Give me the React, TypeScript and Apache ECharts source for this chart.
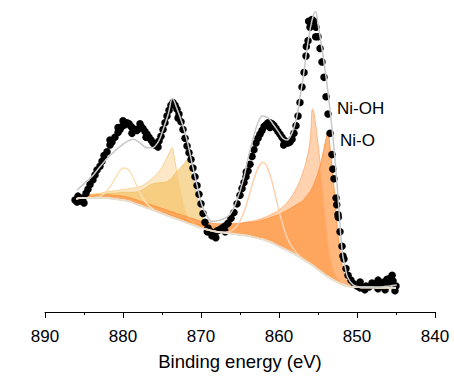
import React, { useEffect, useRef } from "react";
import * as echarts from "echarts";

// Shared energy grid (eV) for background and fitted components
const energyGrid = [
  886, 885.5, 885, 884.5, 884, 883.5, 883, 882.5, 882, 881.5,
  881, 880.5, 880, 879.5, 879, 878.5, 878, 877.5, 877, 876.5,
  876, 875.5, 875, 874.5, 874, 873.7, 873.5,
  873, 872.5, 872, 871.8, 871.5, 871, 870.5, 870,
  869.5, 869, 868.5, 868, 867.5, 867, 866.5, 866, 865.5, 865,
  864.5, 864, 863.5, 863, 862.5, 862, 861.5, 861, 860.5, 860,
  859.5, 859, 858.5, 858, 857.5, 857, 856.5, 856, 855.7, 855.5,
  855, 854.5, 854, 853.7, 853.5, 853, 852.5, 852, 851.5,
  851, 850.5, 850, 849.5, 849, 848.5, 848, 847.5, 847, 846.5, 846, 845.5, 845,
];

// Shirley-type background (a.u.)
const background = [
  11.7, 11.8, 11.8, 11.8, 11.8, 11.8, 11.8, 11.8, 11.8, 11.75,
  11.7, 11.65, 11.6, 11.5, 11.4, 11.25, 11.1, 10.95, 10.8, 10.65,
  10.5, 10.35, 10.2, 10.05, 9.9, 9.81, 9.75,
  9.6, 9.45, 9.3, 9.24, 9.15, 9.0, 8.85, 8.7,
  8.6, 8.5, 8.4, 8.3, 8.25, 8.2, 8.15, 8.1, 8.05, 8.0,
  7.95, 7.9, 7.8, 7.7, 7.6, 7.5, 7.35, 7.2, 7.0, 6.8,
  6.6, 6.4, 6.2, 6.0, 5.75, 5.5, 5.25, 5.0, 4.82, 4.7,
  4.4, 4.1, 3.8, 3.65, 3.55, 3.3, 3.1, 2.9, 2.75,
  2.65, 2.6, 2.6, 2.55, 2.55, 2.55, 2.55, 2.5, 2.5, 2.5, 2.5, 2.5, 2.5,
];

// Component heights above background
const niO_2p32 = [
  0.3, 0.3, 0.3, 0.3, 0.3, 0.32, 0.33, 0.34, 0.35, 0.36,
  0.37, 0.38, 0.4, 0.41, 0.42, 0.44, 0.45, 0.46, 0.48, 0.49,
  0.5, 0.52, 0.53, 0.54, 0.55, 0.56, 0.57,
  0.58, 0.6, 0.62, 0.63, 0.64, 0.66, 0.68, 0.7,
  0.73, 0.76, 0.8, 0.84, 0.88, 0.93, 0.98, 1.04, 1.1, 1.18,
  1.27, 1.37, 1.5, 1.65, 1.83, 2.05, 2.3, 2.6, 2.95, 3.3,
  3.7, 4.1, 4.55, 5.0, 5.5, 6.0, 6.7, 7.5, 8.1, 8.6,
  10.0, 11.8, 14.0, 15.0, 13.8, 10.0, 5.5, 2.4, 0.8,
  0.25, 0.08, 0.03, 0, 0, 0, 0, 0, 0, 0, 0, 0, 0,
];

const niOH_2p32 = [
  0.12, 0.12, 0.13, 0.13, 0.14, 0.14, 0.15, 0.15, 0.16, 0.16,
  0.17, 0.17, 0.18, 0.19, 0.2, 0.2, 0.21, 0.22, 0.23, 0.24,
  0.25, 0.26, 0.27, 0.28, 0.29, 0.3, 0.3,
  0.31, 0.33, 0.35, 0.36, 0.37, 0.39, 0.41, 0.44,
  0.5, 0.55, 0.6, 0.66, 0.72, 0.8, 0.88, 0.97, 1.07, 1.18,
  1.3, 1.44, 1.6, 1.78, 2.0, 2.25, 2.55, 2.9, 3.3, 3.75,
  4.3, 4.9, 5.6, 6.5, 7.5, 8.8, 10.4, 12.8, 16.2, 15.8,
  13.0, 9.5, 5.5, 3.5, 2.5, 1.0, 0.4, 0.15, 0.05,
  0.02, 0.01, 0, 0, 0, 0, 0, 0, 0, 0, 0, 0, 0,
];

const sat_2p32 = [
  0, 0, 0, 0, 0, 0, 0, 0, 0, 0,
  0, 0, 0, 0, 0, 0, 0, 0, 0, 0,
  0, 0, 0, 0, 0, 0, 0,
  0, 0, 0, 0, 0, 0, 0, 0,
  0, 0, 0, 0, 0.02, 0.06, 0.16, 0.37, 0.76, 1.4,
  2.4, 3.7, 5.2, 6.6, 7.6, 8.0, 7.6, 6.6, 5.2, 3.7,
  2.4, 1.4, 0.76, 0.37, 0.16, 0.05, 0, 0, 0, 0,
  0, 0, 0, 0, 0, 0, 0, 0, 0,
  0, 0, 0, 0, 0, 0, 0, 0, 0, 0, 0, 0, 0,
];

const niOH_2p12 = [
  0.25, 0.28, 0.3, 0.35, 0.4, 0.45, 0.5, 0.58, 0.66, 0.75,
  0.85, 0.96, 1.08, 1.22, 1.4, 1.6, 1.85, 2.15, 2.55, 3.0,
  3.5, 4.1, 4.8, 5.7, 6.7, 7.2, 6.6,
  4.4, 2.5, 1.1, 0.8, 0.45, 0.2, 0.1, 0.05,
  0.03, 0.02, 0.01, 0, 0, 0, 0, 0, 0, 0,
  0, 0, 0, 0, 0, 0, 0, 0, 0, 0,
  0, 0, 0, 0, 0, 0, 0, 0, 0, 0,
  0, 0, 0, 0, 0, 0, 0, 0, 0,
  0, 0, 0, 0, 0, 0, 0, 0, 0, 0, 0, 0, 0,
];

const niO_2p12 = [
  0.2, 0.22, 0.24, 0.27, 0.3, 0.33, 0.37, 0.42, 0.48, 0.55,
  0.62, 0.7, 0.8, 0.9, 1.0, 1.15, 1.4, 1.7, 2.1, 2.5,
  2.8, 3.0, 3.2, 3.4, 3.8, 4.1, 4.4,
  5.0, 5.6, 6.2, 6.5, 5.9, 4.6, 3.0, 1.6,
  0.6, 0.2, 0.08, 0.03, 0, 0, 0, 0, 0, 0,
  0, 0, 0, 0, 0, 0, 0, 0, 0, 0,
  0, 0, 0, 0, 0, 0, 0, 0, 0, 0,
  0, 0, 0, 0, 0, 0, 0, 0, 0,
  0, 0, 0, 0, 0, 0, 0, 0, 0, 0, 0, 0, 0,
];

const sat_2p12 = [
  0, 0, 0, 0.01, 0.02, 0.07, 0.18, 0.41, 0.81, 1.41,
  2.15, 2.86, 3.32, 3.36, 2.98, 2.3, 1.55, 0.92, 0.47, 0.21,
  0.08, 0.03, 0.01, 0, 0, 0, 0,
  0, 0, 0, 0, 0, 0, 0, 0,
  0, 0, 0, 0, 0, 0, 0, 0, 0, 0,
  0, 0, 0, 0, 0, 0, 0, 0, 0, 0,
  0, 0, 0, 0, 0, 0, 0, 0, 0, 0,
  0, 0, 0, 0, 0, 0, 0, 0, 0,
  0, 0, 0, 0, 0, 0, 0, 0, 0, 0, 0, 0, 0,
];

// Fitted envelope
const envelopeE = [
  885.9, 885, 884, 882.9, 881.9, 881, 880.1, 879.4, 878.7, 877.8,
  876.9, 876.3, 875.5, 874.9, 874.2, 873.65, 873.1, 872.4, 871.8, 871.2,
  870.5, 869.9, 869.2, 868.6, 867.6, 866.3, 865.4, 864.6, 864, 863.3,
  862.7, 862.1, 861.4, 860.8, 860.1, 859.5, 859, 858.3, 857.7, 857.3,
  856.9, 856.4, 856, 855.6, 855.3, 855, 854.5, 854.1, 853.7, 853.2,
  852.8, 852.4, 851.9, 851.5, 851.2, 850.5, 849.6, 848.3, 847.1, 845.8, 844.9,
];
const envelopeI = [
  12.6, 13.3, 14.0, 15.1, 16.0, 16.7, 17.3, 17.7, 17.9, 17.5,
  17.0, 17.0, 17.6, 18.8, 20.5, 22.1, 21.1, 19.5, 17.8, 15.6,
  13.1, 11.1, 9.9, 9.4, 9.5, 10.1, 11.6, 13.6, 15.8, 18.0,
  19.6, 20.3, 20.1, 19.5, 18.7, 18.0, 17.8, 18.6, 20.3, 22.3,
  24.3, 27.3, 29.3, 30.7, 31.1, 29.8, 27.3, 25.1, 22.6, 19.0,
  15.6, 11.6, 6.3, 4.6, 3.6, 2.8, 2.6, 2.6, 2.6, 2.7, 2.8,
];

// Measured data points
const measuredE = [
  886.15, 885.77, 885.51, 885.13, 884.74, 884.49, 884.23, 883.85, 883.59, 883.33,
  882.95, 882.69, 882.44, 882.05, 881.67, 881.41, 881.03, 880.64, 880.38, 880.13,
  879.74, 879.49, 879.23, 878.97, 878.72, 878.46, 878.21, 877.95, 877.69, 877.44,
  877.18, 876.92, 876.67, 876.41, 876.15, 875.9, 875.64, 875.38, 875.13, 874.87,
  874.62, 874.36, 874.1, 873.85, 873.59, 873.33, 873.08, 872.82, 872.56, 872.31,
  872.05, 871.79, 871.54, 871.28, 871.03, 870.77, 870.51, 870.26, 870.0, 869.74,
  869.49, 869.1, 868.72, 868.33, 867.95, 867.7, 867.3, 866.92, 866.54, 866.15,
  865.77, 865.38, 865.0, 864.74, 864.49, 864.23, 863.97, 863.72, 863.46, 863.21,
  862.95, 862.69, 862.44, 862.18, 861.92, 861.67, 861.41, 861.15, 860.9, 860.64,
  860.38, 860.13, 859.87, 859.62, 859.36, 859.1, 858.85, 858.59, 858.33, 858.08,
  857.82, 857.56, 857.31, 857.05, 856.79, 856.54, 856.28, 856.03, 855.77, 855.51,
  855.26, 855.0, 854.74, 854.49, 854.23, 853.97, 853.72, 853.46, 853.21, 852.95,
  852.69, 852.44, 852.18, 851.92, 851.67, 851.41, 851.15, 850.77, 850.38, 850.0,
  849.62, 849.23, 848.85, 848.46, 848.08, 847.69, 847.31, 846.92, 846.54, 846.15,
  845.77, 845.38, 845.0, 845.13,
  881.67, 880.64, 880.0, 878.85, 877.82, 877.05, 875.51, 885.0, 885.9, 872.95,
  868.6, 868.1, 869.2, 866.9, 864.2, 861.15, 859.4, 856.5, 856.2, 855.3,
  853.1, 852.6, 852.4, 851.8, 849.6, 849.0, 847.3, 846.4, 846.0, 845.5,
];
const measuredI = [
  11.6, 12.0, 11.5, 11.8, 12.3, 12.7, 13.2, 13.7, 14.2, 14.7,
  15.1, 15.6, 16.2, 16.6, 17.3, 17.6, 18.1, 18.6, 18.9, 19.2,
  19.4, 19.6, 19.5, 19.2, 19.0, 18.9, 18.8, 19.0, 19.2, 19.0,
  18.7, 18.4, 18.1, 17.8, 17.5, 17.3, 17.5, 17.7, 18.2, 18.9,
  19.6, 20.3, 20.9, 21.4, 21.7, 21.4, 21.0, 20.5, 19.7, 18.9,
  18.0, 17.2, 16.5, 15.8, 14.9, 14.0, 13.1, 12.2, 11.2, 10.2,
  9.3, 8.7, 8.3, 8.1, 8.4, 8.5, 8.7, 8.9, 9.2, 9.7,
  10.3, 11.2, 12.1, 12.8, 13.4, 14.0, 14.6, 15.3, 16.1, 16.8,
  17.5, 18.0, 18.4, 18.8, 19.2, 19.4, 19.6, 19.6, 19.5, 19.3,
  19.0, 18.7, 18.4, 18.1, 17.8, 17.6, 17.5, 17.6, 17.9, 18.5,
  19.3, 20.3, 21.7, 23.3, 24.8, 26.5, 28.1, 29.5, 30.3, 30.1,
  29.5, 28.5, 27.3, 25.9, 24.3, 22.3, 20.5, 18.5, 16.3, 13.8,
  11.8, 10.1, 8.3, 6.8, 5.5, 4.5, 3.8, 3.3, 2.9, 2.7,
  2.5, 2.5, 2.7, 2.6, 3.0, 2.8, 2.4, 2.7, 3.1, 3.4,
  3.5, 3.2, 2.7, 2.2,
  17.8, 19.1, 19.8, 18.5, 19.5, 18.1, 17.1, 11.3, 11.4, 20.1,
  7.9, 7.7, 8.3, 8.3, 14.5, 19.1, 17.3, 27.5, 30.1, 28.5,
  14.8, 11.1, 9.8, 5.8, 3.1, 2.3, 3.3, 2.3, 2.9, 3.8,
];

const FONT = "'Liberation Sans', Arial, sans-serif";

export default function App() {
  const ref = useRef<HTMLDivElement>(null);

  useEffect(() => {
    if (!ref.current) return;
    const chart = echarts.init(ref.current, null, { renderer: "svg" });

    // value first so that the stacked dimension is the intensity (y)
    const onGrid = (vals: number[]) => energyGrid.map((e, i) => [vals[i], e]);
    const SM = 0.4;
    const ENC = { x: 1, y: 0 };

    const baseOf = (stack: string, z: number) => ({
      type: "line",
      stack,
      encode: ENC,
      data: onGrid(background),
      symbol: "none",
      smooth: SM,
      silent: true,
      lineStyle: { opacity: 0 },
      z,
    });

    const filled = (name: string, vals: number[], stack: string, fill: string, stroke: string, z: number) => [
      baseOf(stack, z),
      {
        type: "line",
        name,
        stack,
        encode: ENC,
        data: onGrid(vals),
        symbol: "none",
        smooth: SM,
        lineStyle: { color: stroke, width: 1 },
        areaStyle: { color: fill, opacity: 1 },
        z,
      },
    ];

    const outline = (name: string, vals: number[], stack: string, stroke: string, z: number) => [
      baseOf(stack, z),
      {
        type: "line",
        name,
        stack,
        encode: ENC,
        data: onGrid(vals),
        symbol: "none",
        smooth: SM,
        lineStyle: { color: stroke, width: 1.5 },
        z,
      },
    ];

    const option: any = {
      animation: false,
      grid: { left: 45, right: 19, top: 3, bottom: 53 },
      xAxis: {
        type: "value",
        min: 840,
        max: 890,
        interval: 10,
        inverse: true,
        axisLine: { show: true, onZero: false, lineStyle: { color: "#000", width: 1 } },
        axisTick: { show: true, length: 6, lineStyle: { color: "#000", width: 1 } },
        minorTick: { show: true, splitNumber: 2, length: 3, lineStyle: { color: "#000", width: 1 } },
        splitLine: { show: false },
        minorSplitLine: { show: false },
        axisLabel: { color: "#000", fontSize: 17, margin: 16, fontFamily: FONT },
        name: "Binding energy (eV)",
        nameLocation: "middle",
        nameGap: 40,
        nameTextStyle: { color: "#000", fontSize: 18.5, fontFamily: FONT },
      },
      yAxis: { type: "value", min: 0, max: 32, show: false },
      series: [
        ...filled("Ni-OH 2p1/2", niOH_2p12, "s1", "rgba(245,185,80,0.32)", "rgba(246,205,130,0.9)", 2),
        ...filled("Ni-O 2p1/2", niO_2p12, "s2", "rgba(240,178,60,0.5)", "rgba(242,196,110,0.95)", 2),
        ...filled("Ni-OH 2p3/2", niOH_2p32, "s3", "rgba(255,145,57,0.4)", "rgba(255,175,120,0.9)", 2),
        ...filled("Ni-O 2p3/2", niO_2p32, "s4", "rgba(255,139,44,0.62)", "#FF9A4F", 2),
        {
          type: "scatter",
          name: "Data",
          data: measuredE.map((e, i) => [e, measuredI[i]]),
          symbol: "circle",
          symbolSize: 7.5,
          itemStyle: { color: "#000", opacity: 1 },
          z: 3,
        },
        ...outline("Sat 2p1/2", sat_2p12, "s5", "#FCE0B4", 4),
        ...outline("Sat 2p3/2", sat_2p32, "s6", "#FFD0AE", 4),
        {
          type: "line",
          name: "Background",
          data: energyGrid.map((e, i) => [e, background[i]]),
          symbol: "none",
          smooth: SM,
          lineStyle: { color: "#E8DECE", width: 2 },
          z: 4,
        },
        {
          type: "line",
          name: "Envelope",
          data: envelopeE.map((e, i) => [e, envelopeI[i]]),
          symbol: "none",
          smooth: SM,
          lineStyle: { color: "#C8C8C8", width: 1.5 },
          z: 5,
        },
      ],
      graphic: [
        {
          type: "text",
          x: 337,
          y: 108,
          style: { text: "Ni-OH", fill: "#000", fontSize: 17, fontFamily: FONT, verticalAlign: "middle" },
        },
        {
          type: "text",
          x: 340,
          y: 140,
          style: { text: "Ni-O", fill: "#000", fontSize: 17, fontFamily: FONT, verticalAlign: "middle" },
        },
      ],
    };

    chart.setOption(option);
    return () => chart.dispose();
  }, []);

  return (
    <div
      ref={ref}
      style={{ position: "fixed", left: 0, top: 0, width: 454, height: 376, background: "#fff" }}
    />
  );
}
